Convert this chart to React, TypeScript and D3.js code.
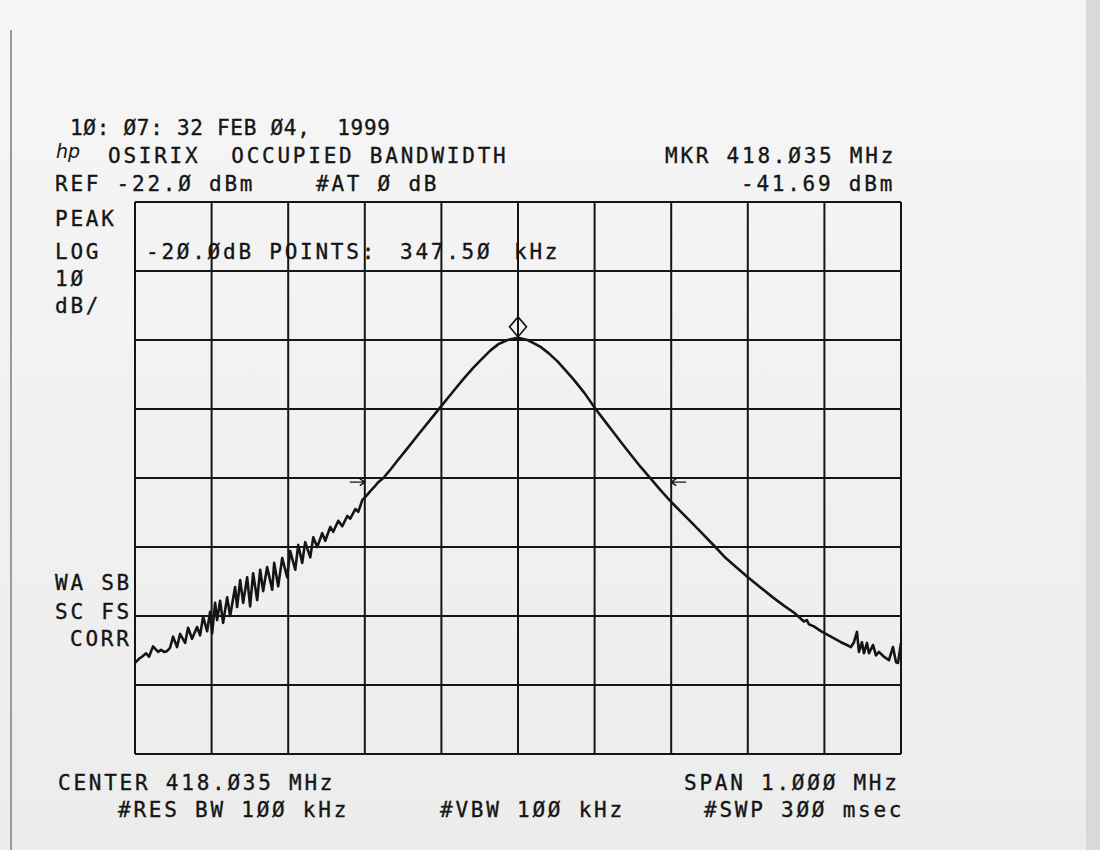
import React from 'react'
import * as d3 from 'd3'

// Analyzer settings shown on the plot
const refLevel = -22
const dbPerDiv = 10
const divY = 8
const divX = 10
const spanKHz = 1000
const markerKHz = 0
const markerDBm = -41.69
const bwArrowKHz = [-200, 200]
const bwArrowDBm = -62.6

// Trace: offset from center (kHz) and level (dBm)
const traceKHz = [
  -500, -494.8, -490.9, -485.6, -481.7, -476.5, -469.9, -466.0, -462.1, -458.2,
  -454.2, -450.3, -445.1, -441.2, -434.6, -430.7, -425.5, -419.0, -415.0, -411.1,
  -405.9, -402.0, -399.3, -395.4, -392.8, -388.9, -385.0, -379.7, -375.8, -369.3,
  -366.7, -362.7, -358.8, -353.6, -349.7, -345.8, -340.5, -336.6, -332.7, -327.5,
  -320.9, -318.3, -313.1, -307.8, -301.3, -297.4, -290.8, -286.9, -281.7, -277.8,
  -271.2, -267.3, -262.1, -255.6, -251.6, -245.1, -241.2, -234.6, -229.4, -222.9,
  -219.0, -212.4, -208.5, -203.3, -198.0, -192.8, -187.6, -182.4, -175.8, -166.7,
  -157.5, -144.4, -130.1, -117.0, -103.9, -90.8, -79.1, -68.6, -58.2, -47.7,
  -35.9, -25.5, -13.7, 0, 12.4, 22.9, 29.4, 39.9, 51.6, 62.1,
  72.5, 86.9, 101.3, 114.4, 124.8, 136.6, 147.1, 160.1, 173.2, 186.3,
  202.0, 221.6, 238.6, 254.2, 271.2, 286.9, 301.3, 317.0, 332.7, 347.1,
  360.1, 369.3, 373.2, 377.1, 379.7, 386.3, 395.4, 408.5, 421.6, 429.4,
  434.6, 438.6, 442.5, 445.1, 449.0, 451.6, 455.6, 458.2, 463.4, 467.3,
  471.2, 477.8, 484.3, 489.5, 493.5, 496.1, 500,
]

const traceDBm = [
  -88.8, -88.2, -87.9, -87.4, -87.9, -86.4, -87.2, -86.9, -87.2, -87.1,
  -86.6, -85.0, -86.5, -84.6, -85.9, -83.7, -85.3, -83.6, -84.8, -82.1,
  -84.2, -81.4, -84.5, -80.1, -82.6, -79.8, -83.0, -79.3, -82.0, -77.8,
  -80.7, -76.8, -80.1, -76.4, -80.6, -75.8, -79.7, -75.3, -78.4, -74.9,
  -78.2, -74.3, -77.7, -73.6, -76.4, -72.6, -75.3, -71.7, -74.3, -71.3,
  -73.5, -70.6, -72.0, -70.0, -71.1, -69.1, -69.8, -68.2, -69.0, -67.5,
  -67.9, -66.5, -66.9, -65.2, -64.6, -63.9, -63.3, -62.6, -62.0, -60.8,
  -59.5, -57.7, -55.7, -53.9, -52.1, -50.3, -48.7, -47.3, -46.0, -44.8,
  -43.5, -42.6, -42.0, -41.69, -42.0, -42.6, -43.0, -43.9, -45.1, -46.4,
  -47.7, -49.7, -52.0, -53.9, -55.4, -57.1, -58.6, -60.4, -62.1, -63.8,
  -65.7, -67.9, -69.8, -71.6, -73.6, -75.1, -76.5, -77.9, -79.3, -80.5,
  -81.5, -82.4, -82.8, -82.6, -83.2, -83.5, -84.2, -85.0, -85.8, -86.2,
  -86.5, -85.8, -84.3, -87.2, -85.8, -87.4, -85.9, -87.4, -86.2, -87.7,
  -87.2, -87.9, -88.4, -86.5, -88.7, -88.8, -85.9,
]

const FONT = '"DejaVu Sans Mono", monospace'
const FS = 21
const LS = 2.76
const INK = '#151515'

const T: React.FC<{ x: number; y: number; len?: number; children: React.ReactNode }> = ({
  x,
  y,
  len,
  children,
}) => (
  <text
    x={x}
    y={y}
    fontFamily={FONT}
    fontSize={FS}
    letterSpacing={len ? undefined : LS}
    textLength={len}
    lengthAdjust={len ? 'spacing' : undefined}
    fill={INK}
    stroke={INK}
    strokeWidth={0.35}
    style={{ whiteSpace: 'pre' }}
  >
    {children}
  </text>
)

export default function App() {
  const left = 135
  const right = 901
  const top = 202
  const bottom = 754

  const x = d3.scaleLinear().domain([-spanKHz / 2, spanKHz / 2]).range([left, right])
  const y = d3
    .scaleLinear()
    .domain([refLevel - dbPerDiv * divY, refLevel])
    .range([bottom, top])

  const xTicks = d3.range(0, divX + 1).map(i => -spanKHz / 2 + (i * spanKHz) / divX)
  const yTicks = d3.range(0, divY + 1).map(i => refLevel - i * dbPerDiv)

  const line = d3
    .line<number>()
    .x((_, i) => x(traceKHz[i]))
    .y(d => y(d))

  const mx = x(markerKHz)
  const my = y(markerDBm) - 11
  const ay = y(bwArrowDBm)

  return (
    <svg width={1100} height={850} style={{ position: 'absolute', left: 0, top: 0 }}>
      <defs>
        <linearGradient id="paper" x1="0" y1="0" x2="0" y2="1">
          <stop offset="0" stopColor="#f6f6f6" />
          <stop offset="1" stopColor="#ececec" />
        </linearGradient>
      </defs>
      <rect width={1100} height={850} fill="url(#paper)" />
      <rect x={1086} y={0} width={14} height={850} fill="#d9d9d9" />
      <line x1={11} y1={30} x2={11} y2={850} stroke="#9a9a9a" strokeWidth={2} />

      {/* grid */}
      <g stroke={INK} strokeWidth={2} fill="none">
        {xTicks.map(t => (
          <line key={'x' + t} x1={x(t)} x2={x(t)} y1={top} y2={bottom} />
        ))}
        {yTicks.map(t => (
          <line key={'y' + t} x1={left} x2={right} y1={y(t)} y2={y(t)} />
        ))}
      </g>

      {/* trace */}
      <path
        d={line(traceDBm) ?? ''}
        fill="none"
        stroke={INK}
        strokeWidth={2.6}
        strokeLinejoin="round"
      />

      {/* marker */}
      <path
        d={`M${mx},${my - 10} L${mx + 8.5},${my} L${mx},${my + 10} L${mx - 8.5},${my} Z`}
        fill="none"
        stroke={INK}
        strokeWidth={1.6}
      />

      {/* -20 dB point arrows */}
      <g stroke={INK} strokeWidth={1.4} fill="none">
        {bwArrowKHz.map(k => {
          const tip = x(k)
          const dir = k < 0 ? 1 : -1
          return (
            <path
              key={k}
              d={`M${tip - dir * 15},${ay} L${tip},${ay} M${tip - dir * 5},${ay - 3.5} L${tip},${ay} L${tip - dir * 5},${ay + 3.5}`}
            />
          )
        })}
      </g>

      {/* header */}
      <T x={70} y={135} len={320}>
        {'1Ø: Ø7: 32 FEB Ø4,  1999'}
      </T>
      <text
        x={56}
        y={158}
        fontFamily='"DejaVu Sans", sans-serif'
        fontStyle="italic"
        fontSize={19}
        fill={INK}
      >
        hp
      </text>
      <T x={108} y={163}>{'OSIRIX  OCCUPIED BANDWIDTH'}</T>
      <T x={665} y={163}>MKR 418.Ø35 MHz</T>
      <T x={55} y={191}>REF -22.Ø dBm</T>
      <T x={316} y={191}>#AT Ø dB</T>
      <T x={741} y={191}>-41.69 dBm</T>

      {/* left annotations */}
      <T x={55} y={226}>PEAK</T>
      <T x={55} y={259}>LOG</T>
      <T x={55} y={286}>1Ø</T>
      <T x={55} y={313}>dB/</T>
      <T x={55} y={590}>WA SB</T>
      <T x={55} y={619}>SC FS</T>
      <T x={70} y={646}>CORR</T>

      <T x={146} y={259}>-2Ø.ØdB POINTS:</T>
      <T x={400} y={259}>347.5Ø</T>
      <T x={514} y={259}>kHz</T>

      {/* footer */}
      <T x={58} y={790}>CENTER 418.Ø35 MHz</T>
      <T x={684} y={790}>SPAN 1.ØØØ MHz</T>
      <T x={118} y={817}>#RES BW 1ØØ kHz</T>
      <T x={440} y={817}>#VBW 1ØØ kHz</T>
      <T x={704} y={817}>#SWP 3ØØ msec</T>
    </svg>
  )
}
